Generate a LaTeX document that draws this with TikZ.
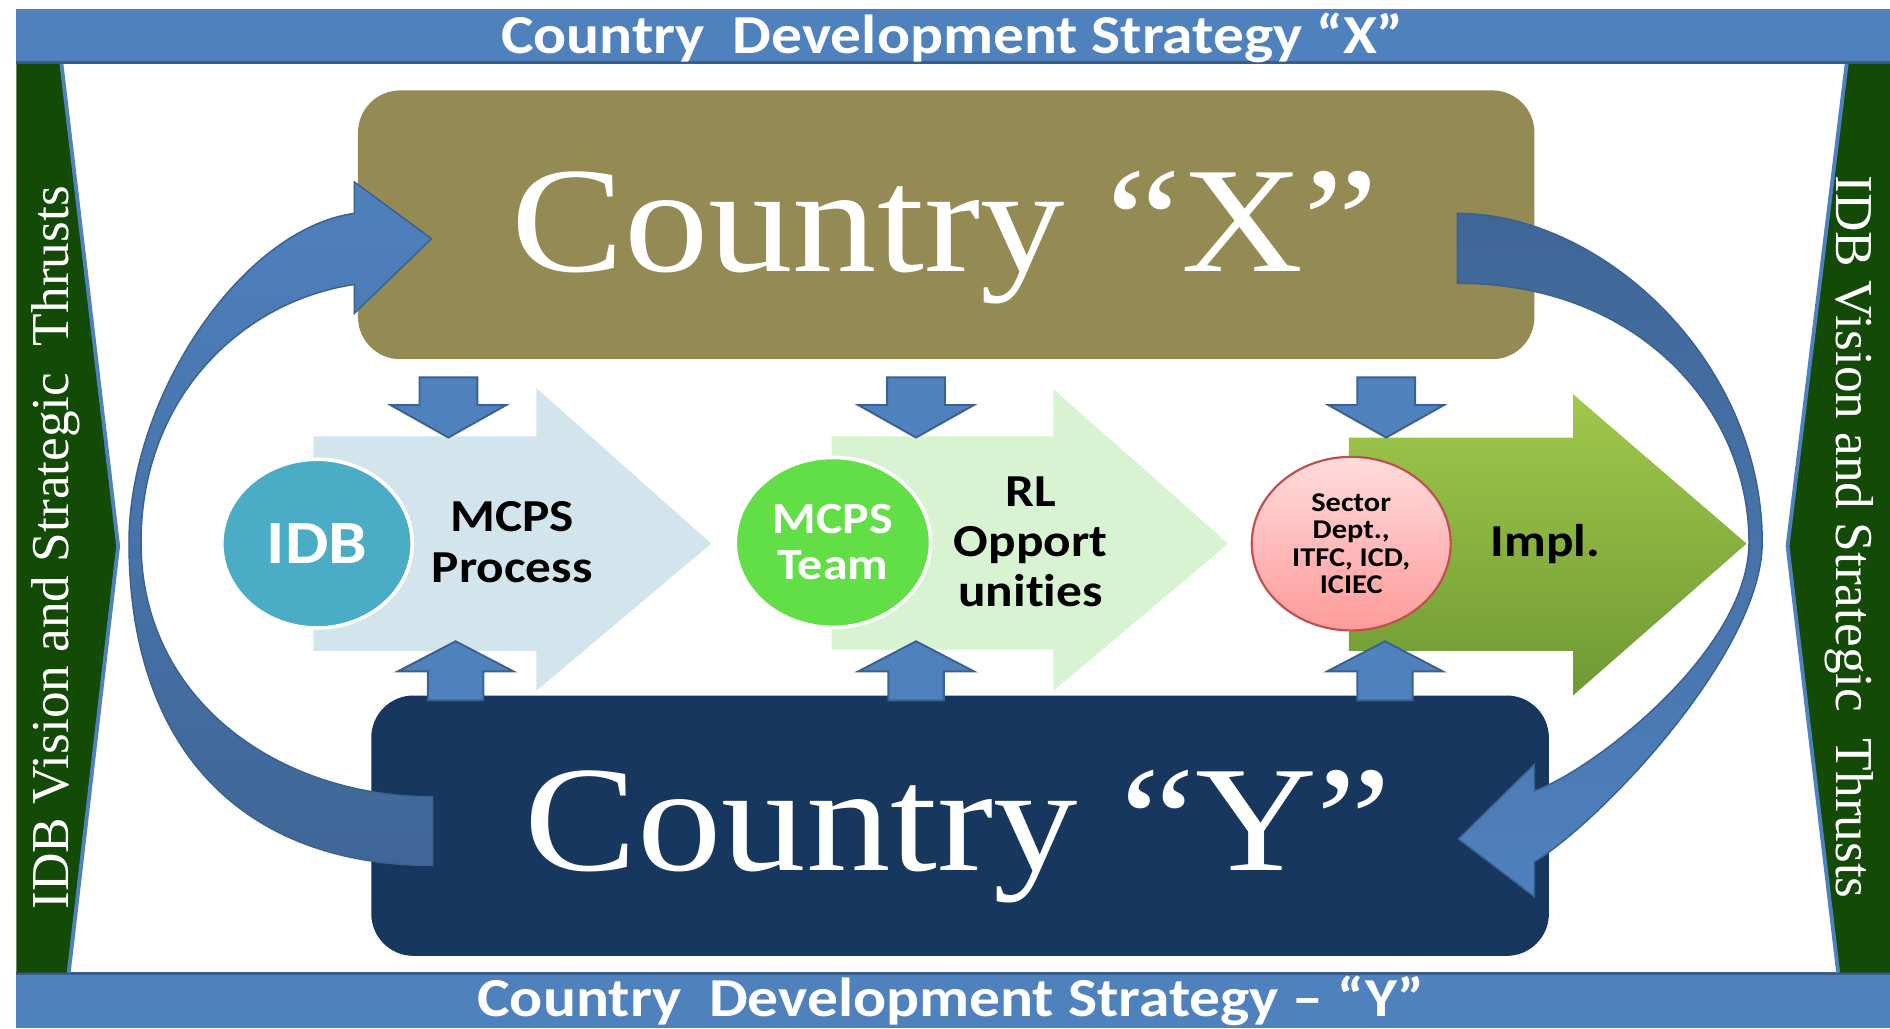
\documentclass[tikz,border=0pt]{standalone}
\usepackage{fontspec}
\usepackage{graphicx}
\usetikzlibrary{shapes.geometric}
\newfontfamily\calib[Ligatures={NoCommon}]{Carlito}
\newfontfamily\tnr{Liberation Serif}
\newcommand{\hs}[1]{\scalebox{1.12}[1]{#1}}
\definecolor{bannerblue}{HTML}{4F81BD}
\definecolor{bannerline}{HTML}{385D8A}
\definecolor{bandgreen}{HTML}{134A06}
\definecolor{olivebox}{HTML}{948A54}
\definecolor{navybox}{HTML}{17375E}
\definecolor{arrowblue}{HTML}{4F81BD}
\definecolor{arrowdark}{HTML}{3F6696}
\definecolor{arrowedge}{HTML}{3A6190}
\definecolor{chevA}{HTML}{D3E5EC}
\definecolor{chevB}{HTML}{D8F3D2}
\definecolor{chevCtop}{HTML}{A0C84B}
\definecolor{chevCbot}{HTML}{6F9A34}
\definecolor{idbcol}{HTML}{4BACC6}
\definecolor{teamcol}{HTML}{62DE46}
\definecolor{pinktop}{HTML}{FFDCDC}
\definecolor{pinkbot}{HTML}{FF9A9A}
\definecolor{pinkedge}{HTML}{C0504D}
\begin{document}
\begin{tikzpicture}[x=0.5pt,y=-0.5pt,
  banner/.style={fill=bannerblue},
  bannerrule/.style={draw=bannerline, line width=1.2pt},
  band/.style={fill=bandgreen},
  bandedge/.style={draw=bannerblue, line width=1.6pt, line join=miter},
  countrybox/.style={rounded corners=17.5pt, inner sep=0pt, draw=none},
  bigarrow/.style={draw=arrowedge, line width=0.6pt, line join=miter},
  smallarrow/.style={fill=arrowblue, draw=arrowedge, line width=0.8pt, line join=miter},
  blob/.style={ellipse, inner sep=0pt, align=center},
  bannertext/.style={text=white, anchor=base, inner sep=0pt, font=\calib\bfseries\fontsize{22.8pt}{26pt}\selectfont},
  sidetext/.style={text=white, anchor=base, inner sep=0pt, font=\tnr\fontsize{22.1pt}{26pt}\selectfont},
  countrytext/.style={text=white, anchor=base, inner sep=0pt, font=\tnr\fontsize{62.5pt}{70pt}\selectfont},
  midtext/.style={text=black, anchor=center, inner sep=0pt, align=center, font=\calib\bfseries\fontsize{19pt}{21pt}\selectfont}
]
% canvas
\fill[white] (0,0) rectangle (1568,853);
\useasboundingbox (0,0) rectangle (1568,853);

% banners
\fill[banner] (13.5,7.5) rectangle (1568,52.5);
\draw[bannerrule] (13.5,52) -- (1568,52);
\fill[banner] (13.5,807) rectangle (1568,853);
\draw[bannerrule] (13.5,807.5) -- (1568,807.5);

% side bands
\fill[band] (13.5,53) -- (51,53) -- (98,453) -- (57,807) -- (13.5,807) -- cycle;
\draw[bandedge] (51,53) -- (98,453) -- (57,807);
\fill[band] (1532,53) -- (1568,53) -- (1568,807) -- (1525,807) -- (1483,453) -- cycle;
\draw[bandedge] (1532,53) -- (1483,453) -- (1525,807);

% country boxes
\node[countrybox, fill=olivebox, minimum width=488pt, minimum height=111.5pt] (countryX) at (785,186.5) {};
\node[countrybox, fill=navybox, minimum width=488.5pt, minimum height=108pt] (countryY) at (796.5,685) {};

% chevrons
\fill[chevA] (260,362) -- (445,362) -- (445,322) -- (590,451) -- (445,573) -- (445,540) -- (260,540) -- cycle;
\fill[chevB] (690,362) -- (874,362) -- (874,323) -- (1019,451) -- (874,573) -- (874,539) -- (690,539) -- cycle;
\shade[top color=chevCtop, bottom color=chevCbot] (1119,363) -- (1305,363) -- (1305,327) -- (1449,451) -- (1305,577) -- (1305,540) -- (1119,540) -- cycle;

% circles
\node[blob, fill=idbcol, draw=white, line width=1.5pt, minimum width=79pt, minimum height=70pt,
      text=white, font=\calib\bfseries\fontsize{25.5pt}{28pt}\selectfont] (idb) at (263,451) {\hs{IDB}};
\node[blob, fill=teamcol, draw=white, line width=1.5pt, minimum width=81pt, minimum height=70.5pt,
      text=white, font=\calib\bfseries\fontsize{18.5pt}{19pt}\selectfont] (team) at (691,450) {\hs{MCPS}\\\hs{Team}};
\node[blob, top color=pinktop, bottom color=pinkbot, draw=pinkedge, line width=0.9pt, minimum width=82.5pt, minimum height=72pt,
      text=black, font=\calib\bfseries\fontsize{11.25pt}{11.4pt}\selectfont] (sector) at (1121,451) {\hs{Sector}\\\hs{Dept.,}\\\hs{ITFC, ICD,}\\\hs{ICIEC}};

% chevron labels
\node[midtext] (process) at (425,449.8) {\hs{MCPS}\\\hs{Process}};
\node[midtext, font=\calib\bfseries\fontsize{19pt}{20.75pt}\selectfont] (rlopp) at (855,449.8) {\hs{RL}\\\hs{Opport}\\\hs{unities}};
\node[midtext] (impl) at (1282,451) {\hs{Impl.}};

% small arrows down from Country X
\foreach \cx in {372,760,1150}{
  \draw[smallarrow] (\cx-24,313) -- (\cx+24,313) -- (\cx+24,336) -- (\cx+48,336) -- (\cx,363) -- (\cx-48,336) -- (\cx-24,336) -- cycle;
}
% small arrows up from Country Y
\foreach \cx in {378,760,1149}{
  \draw[smallarrow] (\cx-23,581) -- (\cx+23,581) -- (\cx+23,557) -- (\cx+48,557) -- (\cx,532) -- (\cx-48,557) -- (\cx-23,557) -- cycle;
}

% big curved arrows
\path[bigarrow, top color=arrowblue, bottom color=arrowdark]
  (359,718) .. controls (200,718) and (107,620) .. (107,450)
  .. controls (107,330) and (200,190) .. (294,177)
  -- (294,151) -- (358,198) -- (294,260) -- (294,236)
  .. controls (200,250) and (117,330) .. (117,450)
  .. controls (117,580) and (230,661) .. (359,661) -- cycle;
\path[bigarrow, top color=arrowdark, bottom color=arrowblue]
  (1209,177) .. controls (1330,177) and (1462,300) .. (1462,450)
  .. controls (1462,540) and (1330,680) .. (1273,715)
  -- (1273,744) -- (1210,696) -- (1273,634) -- (1273,656)
  .. controls (1320,640) and (1451,540) .. (1451,450)
  .. controls (1451,340) and (1360,235) .. (1209,235) -- cycle;

% texts
\node[bannertext] (topstrat) at (790,44) {\hs{Country~ Development Strategy “X”}};
\node[bannertext] (botstrat) at (789,843) {\hs{Country~ Development Strategy – “Y”}};
\node[sidetext, rotate=90] (leftthrust) at (56.5,454.5) {IDB Vision and Strategic~ Thrusts};
\node[sidetext, rotate=-90] (rightthrust) at (1524,445.5) {IDB Vision and Strategic~ Thrusts};
\node[countrytext] (xlabel) at (784,225) {\hs{Country “X”}};
\node[countrytext] (ylabel) at (795,722.5) {\hs{Country “Y”}};
\end{tikzpicture}
\end{document}
